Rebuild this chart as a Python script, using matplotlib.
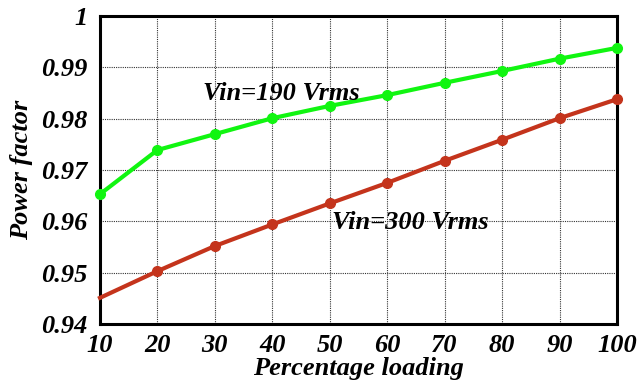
import matplotlib
matplotlib.use('Agg')
import matplotlib.pyplot as plt

loading = [10, 20, 30, 40, 50, 60, 70, 80, 90, 100]
pf_190 = [0.9653, 0.9739, 0.9770, 0.9801, 0.9825, 0.9846, 0.9870, 0.9893, 0.9917, 0.9938]
pf_300 = [0.9451, 0.9503, 0.9552, 0.9594, 0.9635, 0.9675, 0.9718, 0.9759, 0.9801, 0.9838]
xticks = [10, 20, 30, 40, 50, 60, 70, 80, 90, 100]
yticks = [0.94, 0.95, 0.96, 0.97, 0.98, 0.99, 1.0]
ytick_labels = ['0.94', '0.95', '0.96', '0.97', '0.98', '0.99', '1']

plt.rcParams['font.family'] = ['Liberation Serif', 'DejaVu Serif']
font = dict(weight='bold', style='italic')

fig = plt.figure(figsize=(6.43, 3.83), dpi=100)
ax = fig.add_axes([0.1555, 0.154, 0.804, 0.804])

ax.plot(loading, pf_190, color='#11f511', lw=3, marker='o', ms=7, zorder=3, clip_on=False)
ax.plot(loading, pf_300, color='#c4341c', lw=3, marker='o', ms=7, markevery=list(range(1, 10)),
        zorder=3, clip_on=False)

ax.set_xlim(10, 100)
ax.set_ylim(0.94, 1.0)
ax.set_xticks(xticks)
ax.set_yticks(yticks)
ax.set_yticklabels(ytick_labels)
ax.tick_params(length=0, labelsize=19)
ax.tick_params(axis='y', pad=9)
ax.tick_params(axis='x', pad=7)
for lab in ax.get_xticklabels() + ax.get_yticklabels():
    lab.set_fontweight('bold')
    lab.set_fontstyle('italic')

ax.grid(True, color='#333333', ls=(0, (1, 1)), lw=0.8)
for s in ax.spines.values():
    s.set_linewidth(2.2)

ax.set_xlabel('Percentage loading', fontsize=19, labelpad=0, **font)
ax.set_ylabel('Power factor', fontsize=19, labelpad=6, **font)

ax.text(0.2, 0.75, 'Vin=190 Vrms', fontsize=19, ha='left', va='center', transform=ax.transAxes, **font)
ax.text(0.449, 0.331, 'Vin=300 Vrms', fontsize=19, ha='left', va='center', transform=ax.transAxes, **font)

fig.savefig('out.png', dpi=100)
